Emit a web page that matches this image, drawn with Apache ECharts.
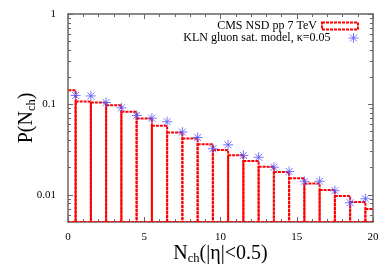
<!DOCTYPE html>
<html><head><meta charset="utf-8">
<script src="https://cdn.jsdelivr.net/npm/echarts@6/dist/echarts.min.js"></script>
<style>html,body{margin:0;padding:0;background:#fff}#c{width:390px;height:273px}</style>
</head><body><div id="c"></div>
<script>
// ---- data ----
const bins = [0,1,2,3,4,5,6,7,8,9,10,11,12,13,14,15,16,17,18,19,20];
const cmsValues = [0.143,0.1075,0.105,0.098,0.0828,0.0699,0.0581,0.049,0.0419,0.0363,0.0313,0.0273,0.0236,0.0204,0.0179,0.0152,0.0133,0.0113,0.0097,0.0083,0.00696];
const klnX = [0.5,1.5,2.5,3.5,4.5,5.5,6.5,7.5,8.5,9.5,10.5,11.5,12.5,13.5,14.5,15.5,16.5,17.5,18.5,19.5];
const klnValues = [0.1255,0.124,0.105,0.0916,0.0754,0.0704,0.0643,0.0494,0.043,0.0323,0.0357,0.0273,0.026,0.0202,0.0181,0.0141,0.0141,0.0111,0.00817,0.00904];
const yMajorTicks = [0.01,0.1,1];
const yMinorTicks = [0.006,0.007,0.008,0.009,0.02,0.03,0.04,0.05,0.06,0.07,0.08,0.09,0.2,0.3,0.4,0.5,0.6,0.7,0.8,0.9];
const yLabels = ['0.01','0.1','1'];
const cmsName = 'CMS NSD pp 7 TeV';
const klnName = 'KLN gluon sat. model, \u03ba=0.05';

const Y_MIN = 0.005, Y_MAX = 1, X_MIN = 0, X_MAX = 20;
const FONT = '"Liberation Serif","DejaVu Serif",serif';
const AXC = '#666';
const STAR = 'path://M0,5L10,5M5,0L5,10M1.5,1.5L8.5,8.5M8.5,1.5L1.5,8.5';

const chart = echarts.init(document.getElementById('c'), null, {renderer:'canvas'});

function yAxisBase(pos, major, labels){
  return {
    type:'log', logBase:10, min:Y_MIN, max:Y_MAX, position:pos,
    axisLine:{show:major, lineStyle:{color:AXC, width:1.5}},
    axisTick:{show:true, inside:true, length: major?5:3, customValues: major?yMajorTicks:yMinorTicks, lineStyle:{color:AXC, width:1}},
    axisLabel:{show:labels, customValues:yMajorTicks, margin:12, color:'#000', fontFamily:FONT, fontSize:11,
      formatter:function(v){ const i = yMajorTicks.indexOf(v); return i>=0 ? yLabels[i] : ''; }},
    splitLine:{show:false}
  };
}
function xAxisBase(pos, labels){
  return {
    type:'value', min:X_MIN, max:X_MAX, interval:5, position:pos,
    axisLine:{show:true, lineStyle:{color:AXC, width:1.5}},
    axisTick:{show:true, inside:true, length:5, lineStyle:{color:AXC, width:1}},
    minorTick:{show:true, splitNumber:5, length:3, lineStyle:{color:AXC, width:1}},
    axisLabel:{show:labels, margin:10, color:'#000', fontFamily:FONT, fontSize:11},
    splitLine:{show:false}
  };
}

const xa0 = xAxisBase('bottom', true);
xa0.name = '{a|N}{b|ch}{a|(|\u03b7|<0.5)}';
xa0.nameLocation = 'middle';
xa0.nameGap = 21;
xa0.nameMoveOverlap = false;
xa0.nameTextStyle = {rich:{
  a:{fontFamily:FONT, fontSize:20, color:'#000'},
  b:{fontFamily:FONT, fontSize:12.5, color:'#000', padding:[9,0,0,0]}
}};
const xa1 = xAxisBase('top', false);

const ya0 = yAxisBase('left', true, true);
ya0.name = '{a|P(N}{b|ch}{a|)}';
ya0.nameLocation = 'middle';
ya0.nameGap = 30;
ya0.nameMoveOverlap = false;
ya0.nameRotate = 90;
ya0.nameTextStyle = {rich:{
  a:{fontFamily:FONT, fontSize:20, color:'#000'},
  b:{fontFamily:FONT, fontSize:12.5, color:'#000', padding:[9,0,0,0]}
}};
const ya1 = yAxisBase('left', false, false);
const ya2 = yAxisBase('right', true, false);
const ya3 = yAxisBase('right', false, false);

chart.setOption({
  animation:false,
  grid:{left:68, top:14, right:17, bottom:51, containLabel:false},
  xAxis:[xa0, xa1],
  yAxis:[ya0, ya1, ya2, ya3],
  legend:[
    {show:true, orient:'vertical', align:'right', right:26, top:15, itemWidth:36, itemHeight:7, itemGap:4,
     textStyle:{fontFamily:FONT, fontSize:12, color:'#000'},
     data:[{name:cmsName, icon:'rect', itemStyle:{color:'rgba(0,0,0,0)', borderColor:'#ff0000', borderWidth:2, borderType:[3,1]}}]},
    {show:true, orient:'vertical', align:'right', right:26, top:27, itemWidth:36, itemHeight:10,
     textStyle:{fontFamily:FONT, fontSize:12, color:'#000'},
     data:[{name:klnName, icon:STAR, itemStyle:{color:'rgba(0,0,0,0)', borderColor:'#5555ff', borderWidth:1}}]}
  ],
  series:[
    {
      name:cmsName, type:'custom', xAxisIndex:0, yAxisIndex:0, clip:true,
      data: bins.map((b,i)=>[b, cmsValues[i]]),
      encode:{x:0, y:1},
      itemStyle:{color:'#ff0000'},
      renderItem:function(params, api){
        const x = api.value(0), v = api.value(1);
        const p1 = api.coord([x-0.5, v]);
        const p2 = api.coord([x+0.5, Y_MIN]);
        return {type:'rect', shape:{x:p1[0], y:p1[1], width:p2[0]-p1[0], height:p2[1]-p1[1]},
          style:{fill:null, stroke:'#ff0000', lineWidth:2, lineDash:[3,1]}};
      },
      z:2
    },
    {
      name:klnName, type:'scatter', xAxisIndex:0, yAxisIndex:0,
      data: klnX.map((x,i)=>[x, klnValues[i]]),
      symbol:STAR, symbolSize:10,
      itemStyle:{color:'rgba(0,0,0,0)', borderColor:'#5555ff', borderWidth:1},
      z:3
    }
  ]
});
</script>
</body></html>
